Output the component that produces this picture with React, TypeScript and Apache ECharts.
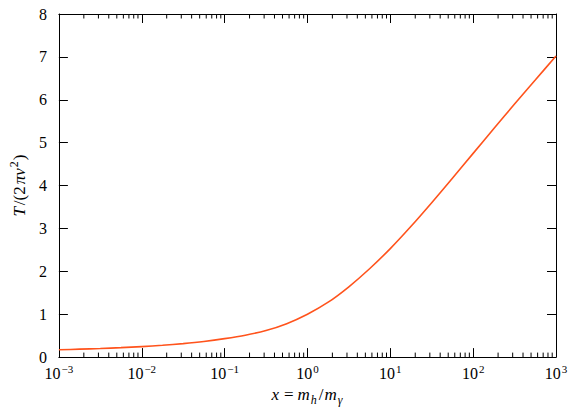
import React, { useEffect, useRef } from 'react';
import * as echarts from 'echarts';

// x = m_h / m_gamma (quarter-decade samples)
const xValues = [
  0.001, 0.00178, 0.00316, 0.00562,
  0.01, 0.0178, 0.0316, 0.0562,
  0.1, 0.178, 0.316, 0.562,
  1, 1.78, 3.16, 5.62,
  10, 17.8, 31.6, 56.2,
  100, 178, 316, 562,
  1000,
];
// T / (2 pi v^2)
const tension = [
  0.17, 0.185, 0.2, 0.22,
  0.245, 0.275, 0.315, 0.365,
  0.43, 0.51, 0.62, 0.78,
  1.0, 1.28, 1.64, 2.06,
  2.53, 3.05, 3.6, 4.17,
  4.75, 5.33, 5.9, 6.46,
  7.02,
];
const xMin = 0.001;
const xMax = 1000;
const yMin = 0;
const yMax = 8;
const decades = [-3, -2, -1, 0, 1, 2];
const minorMultipliers = [2, 3, 4, 5, 6, 7, 8, 9];

const FONT = 'Times New Roman, Liberation Serif, serif';
const LINE_COLOR = '#ff531c';

export default function App() {
  const ref = useRef<HTMLDivElement>(null);
  useEffect(() => {
    if (!ref.current) return;
    const chart = echarts.init(ref.current, undefined, { renderer: 'svg' });

    const minorTicks: number[][] = [];
    decades.forEach((d) => {
      minorMultipliers.forEach((m) => {
        minorTicks.push([m * Math.pow(10, d), 0]);
      });
    });

    const supLabel = {
      b: { fontFamily: FONT, fontSize: 16, color: '#000', verticalAlign: 'bottom', padding: [0, 0, 0, 0] },
      sup: { fontFamily: FONT, fontSize: 11, color: '#000', verticalAlign: 'bottom', padding: [0, 0, 7, 1] },
    };

    const axisLineStyle = { show: true, onZero: false, lineStyle: { color: '#000', width: 1 } };
    const majorTick = { show: true, inside: true, length: 9, lineStyle: { color: '#000' } };

    chart.setOption({
      animation: false,
      backgroundColor: '#fff',
      textStyle: { fontFamily: FONT },
      grid: { left: 45, right: 26, top: 14, bottom: 51, containLabel: false },
      xAxis: [
        {
          type: 'log',
          logBase: 10,
          min: xMin,
          max: xMax,
          interval: 1,
          position: 'bottom',
          axisLine: axisLineStyle,
          axisTick: majorTick,
          splitLine: { show: false },
          axisLabel: {
            margin: 6,
            fontFamily: FONT,
            formatter: (v: number) => {
              const e = Math.round(Math.log10(v));
              return '{b|10}{sup|' + (e < 0 ? '\u2212' + Math.abs(e) : String(e)) + '}';
            },
            rich: supLabel,
          },
          name: '{i|x} {r|=} {i|m}{sub|h}{r|/}{i|m}{sub|\u03b3}',
          nameLocation: 'middle',
          nameGap: 24,
          nameTextStyle: {
            fontFamily: FONT,
            rich: {
              i: { fontFamily: FONT, fontStyle: 'italic', fontSize: 17, color: '#000', verticalAlign: 'bottom', padding: [0, 1, 3, 0] },
              r: { fontFamily: FONT, fontSize: 17, color: '#000', verticalAlign: 'bottom', padding: [0, 1, 3, 1] },
              sub: { fontFamily: FONT, fontStyle: 'italic', fontSize: 12, color: '#000', verticalAlign: 'bottom', padding: [0, 1, 0, 0] },
            },
          },
        },
        {
          type: 'log',
          logBase: 10,
          min: xMin,
          max: xMax,
          interval: 1,
          position: 'top',
          axisLine: axisLineStyle,
          axisTick: majorTick,
          splitLine: { show: false },
          axisLabel: { show: false },
        },
      ],
      yAxis: [
        {
          type: 'value',
          min: yMin,
          max: yMax,
          interval: 1,
          position: 'left',
          axisLine: axisLineStyle,
          axisTick: majorTick,
          splitLine: { show: false },
          axisLabel: { margin: 12, fontFamily: FONT, fontSize: 16, color: '#000' },
          name: '{i|T}{r|/(2}{i|\u03c0v}{sup|2}{r|)}',
          nameLocation: 'middle',
          nameRotate: 90,
          nameGap: 25,
          nameTextStyle: {
            fontFamily: FONT,
            rich: {
              i: { fontFamily: FONT, fontStyle: 'italic', fontSize: 17, color: '#000', verticalAlign: 'bottom', padding: [0, 1, 0, 1] },
              r: { fontFamily: FONT, fontSize: 17, color: '#000', verticalAlign: 'bottom', padding: [0, 1, 0, 1] },
              sup: { fontFamily: FONT, fontSize: 12, color: '#000', verticalAlign: 'bottom', padding: [0, 0, 8, 0] },
            },
          },
        },
        {
          type: 'value',
          min: yMin,
          max: yMax,
          interval: 1,
          position: 'right',
          axisLine: axisLineStyle,
          axisTick: majorTick,
          splitLine: { show: false },
          axisLabel: { show: false },
        },
      ],
      series: [
        {
          type: 'line',
          xAxisIndex: 0,
          yAxisIndex: 0,
          data: xValues.map((x, i) => [x, tension[i]]),
          showSymbol: false,
          smooth: 0.3,
          lineStyle: { color: LINE_COLOR, width: 1.6 },
          silent: true,
        },
        {
          type: 'custom',
          xAxisIndex: 0,
          yAxisIndex: 0,
          clip: false,
          silent: true,
          data: minorTicks,
          encode: { x: 0, y: 1 },
          renderItem: (params: any, api: any) => {
            const v = api.value(0);
            const bottom = api.coord([v, yMin]);
            const top = api.coord([v, yMax]);
            const style = { stroke: '#000', lineWidth: 1 };
            return {
              type: 'group',
              children: [
                { type: 'line', shape: { x1: bottom[0], y1: bottom[1], x2: bottom[0], y2: bottom[1] - 4.5 }, style },
                { type: 'line', shape: { x1: top[0], y1: top[1], x2: top[0], y2: top[1] + 4.5 }, style },
              ],
            };
          },
        },
      ],
    });
    return () => chart.dispose();
  }, []);
  return (
    <div
      ref={ref}
      style={{ position: 'fixed', left: 0, top: 0, width: 582, height: 411, background: '#fff' }}
    />
  );
}
